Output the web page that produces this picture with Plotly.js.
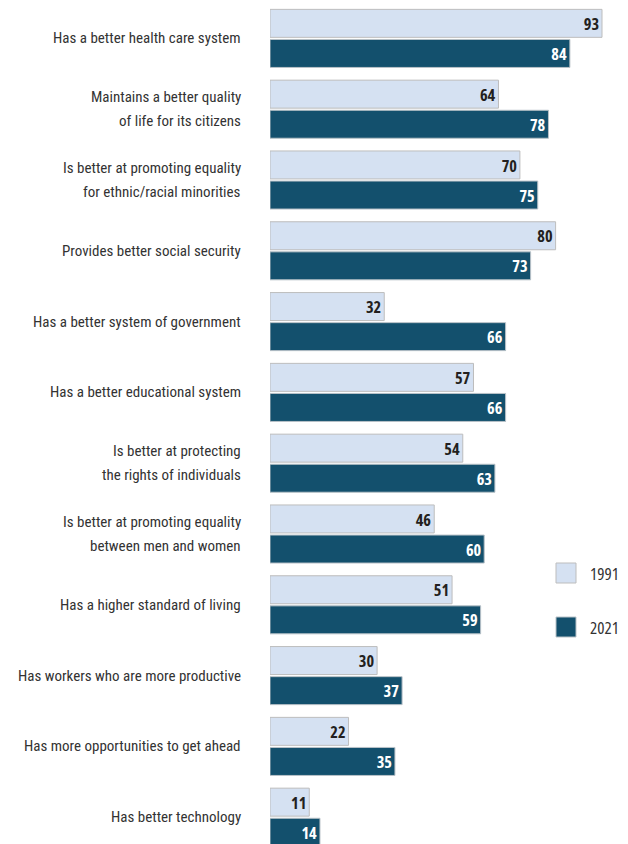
<!DOCTYPE html>
<html>
<head>
<meta charset="utf-8">
<script src="https://cdn.plot.ly/plotly-3.0.1.min.js"></script>
<style>
html,body{margin:0;padding:0;background:#fff;}
#chart{width:628px;height:844px;}
text, tspan{font-stretch:condensed;}
</style>
</head>
<body>
<div id="chart"></div>
<script>
const categories = [
  "Has a better health care system",
  "Maintains a better quality<br>of life for its citizens",
  "Is better at promoting equality<br>for ethnic/racial minorities",
  "Provides better social security",
  "Has a better system of government",
  "Has a better educational system",
  "Is better at protecting<br>the rights of individuals",
  "Is better at promoting equality<br>between men and women",
  "Has a higher standard of living",
  "Has workers who are more productive",
  "Has more opportunities to get ahead",
  "Has better technology"
];
const values1991 = [93, 64, 70, 80, 32, 57, 54, 46, 51, 30, 22, 11];
const values2021 = [84, 78, 75, 73, 66, 66, 63, 60, 59, 37, 35, 14];
const seriesNames = ["1991", "2021"];

const LABEL_FONT = "Roboto, 'Liberation Sans', sans-serif";
const COND_FONT = "'Open Sans', 'DejaVu Sans Condensed', sans-serif";
const W = 628, H = 844;
const M = {l: 270, r: 1, t: 3, b: 0};
const plotH = H - M.t - M.b;
const plotW = W - M.l - M.r;
const c1991 = "#d5e1f2", c2021 = "#13506d";

const traces = [
  {
    type: "bar", orientation: "h", name: seriesNames[0],
    y: categories, x: values1991,
    text: values1991.map(String), textposition: "inside", insidetextanchor: "end",
    textangle: 0,
    textfont: {family: COND_FONT, size: 18.5, color: "#231f20", weight: "bold"},
    marker: {color: c1991, line: {color: "#bdbdbd", width: 1}},
    hoverinfo: "none", cliponaxis: true
  },
  {
    type: "bar", orientation: "h", name: seriesNames[1],
    y: categories, x: values2021,
    text: values2021.map(String), textposition: "inside", insidetextanchor: "end",
    textangle: 0,
    textfont: {family: COND_FONT, size: 18.5, color: "#ffffff", weight: "bold"},
    marker: {color: c2021, line: {color: "#b9c2c8", width: 1}},
    hoverinfo: "none", cliponaxis: true
  }
];

// category labels as annotations (for wider line spacing)
const annotations = [];
const lineGap = 24;
categories.forEach(function (cat) {
  const lines = cat.split("<br>");
  lines.forEach(function (ln, i) {
    annotations.push({
      xref: "paper", yref: "y", x: 0, y: cat,
      xanchor: "right", yanchor: "middle", xshift: -27,
      yshift: ((lines.length - 1) / 2 - i) * lineGap,
      text: ln, showarrow: false,
      font: {family: LABEL_FONT, size: 15, color: "#333333"}
    });
  });
});

// legend drawn with shapes + annotations
function px2x(px) { return (px - M.l) / plotW; }
function py2y(py) { return (H - M.b - py) / plotH; }
const legendItems = [
  {name: seriesNames[0], color: c1991, line: "#bdbdbd", top: 563, bottom: 583},
  {name: seriesNames[1], color: c2021, line: "#b9c2c8", top: 617, bottom: 637}
];
const shapes = [];
legendItems.forEach(function (it) {
  shapes.push({
    type: "rect", xref: "paper", yref: "paper",
    x0: px2x(556), x1: px2x(576), y0: py2y(it.bottom), y1: py2y(it.top),
    fillcolor: it.color, line: {color: it.line, width: 1}
  });
  annotations.push({
    xref: "paper", yref: "paper", x: px2x(588), y: py2y((it.top + it.bottom) / 2),
    xanchor: "left", yanchor: "middle", text: it.name, showarrow: false,
    font: {family: COND_FONT, size: 17, color: "#333333"}
  });
});

const layout = {
  width: W, height: H,
  margin: M,
  paper_bgcolor: "#ffffff", plot_bgcolor: "#ffffff",
  barmode: "group", bargap: 0.15, bargroupgap: 0.07,
  showlegend: false,
  xaxis: {range: [0, 100], visible: false, fixedrange: true},
  yaxis: {type: "category", range: [-0.5 + plotH / 70.8, -0.5], showticklabels: false,
          showgrid: false, zeroline: false, showline: false, ticks: "", fixedrange: true},
  annotations: annotations,
  shapes: shapes
};

Plotly.newPlot("chart", traces, layout, {displayModeBar: false, staticPlot: true});
</script>
</body>
</html>
